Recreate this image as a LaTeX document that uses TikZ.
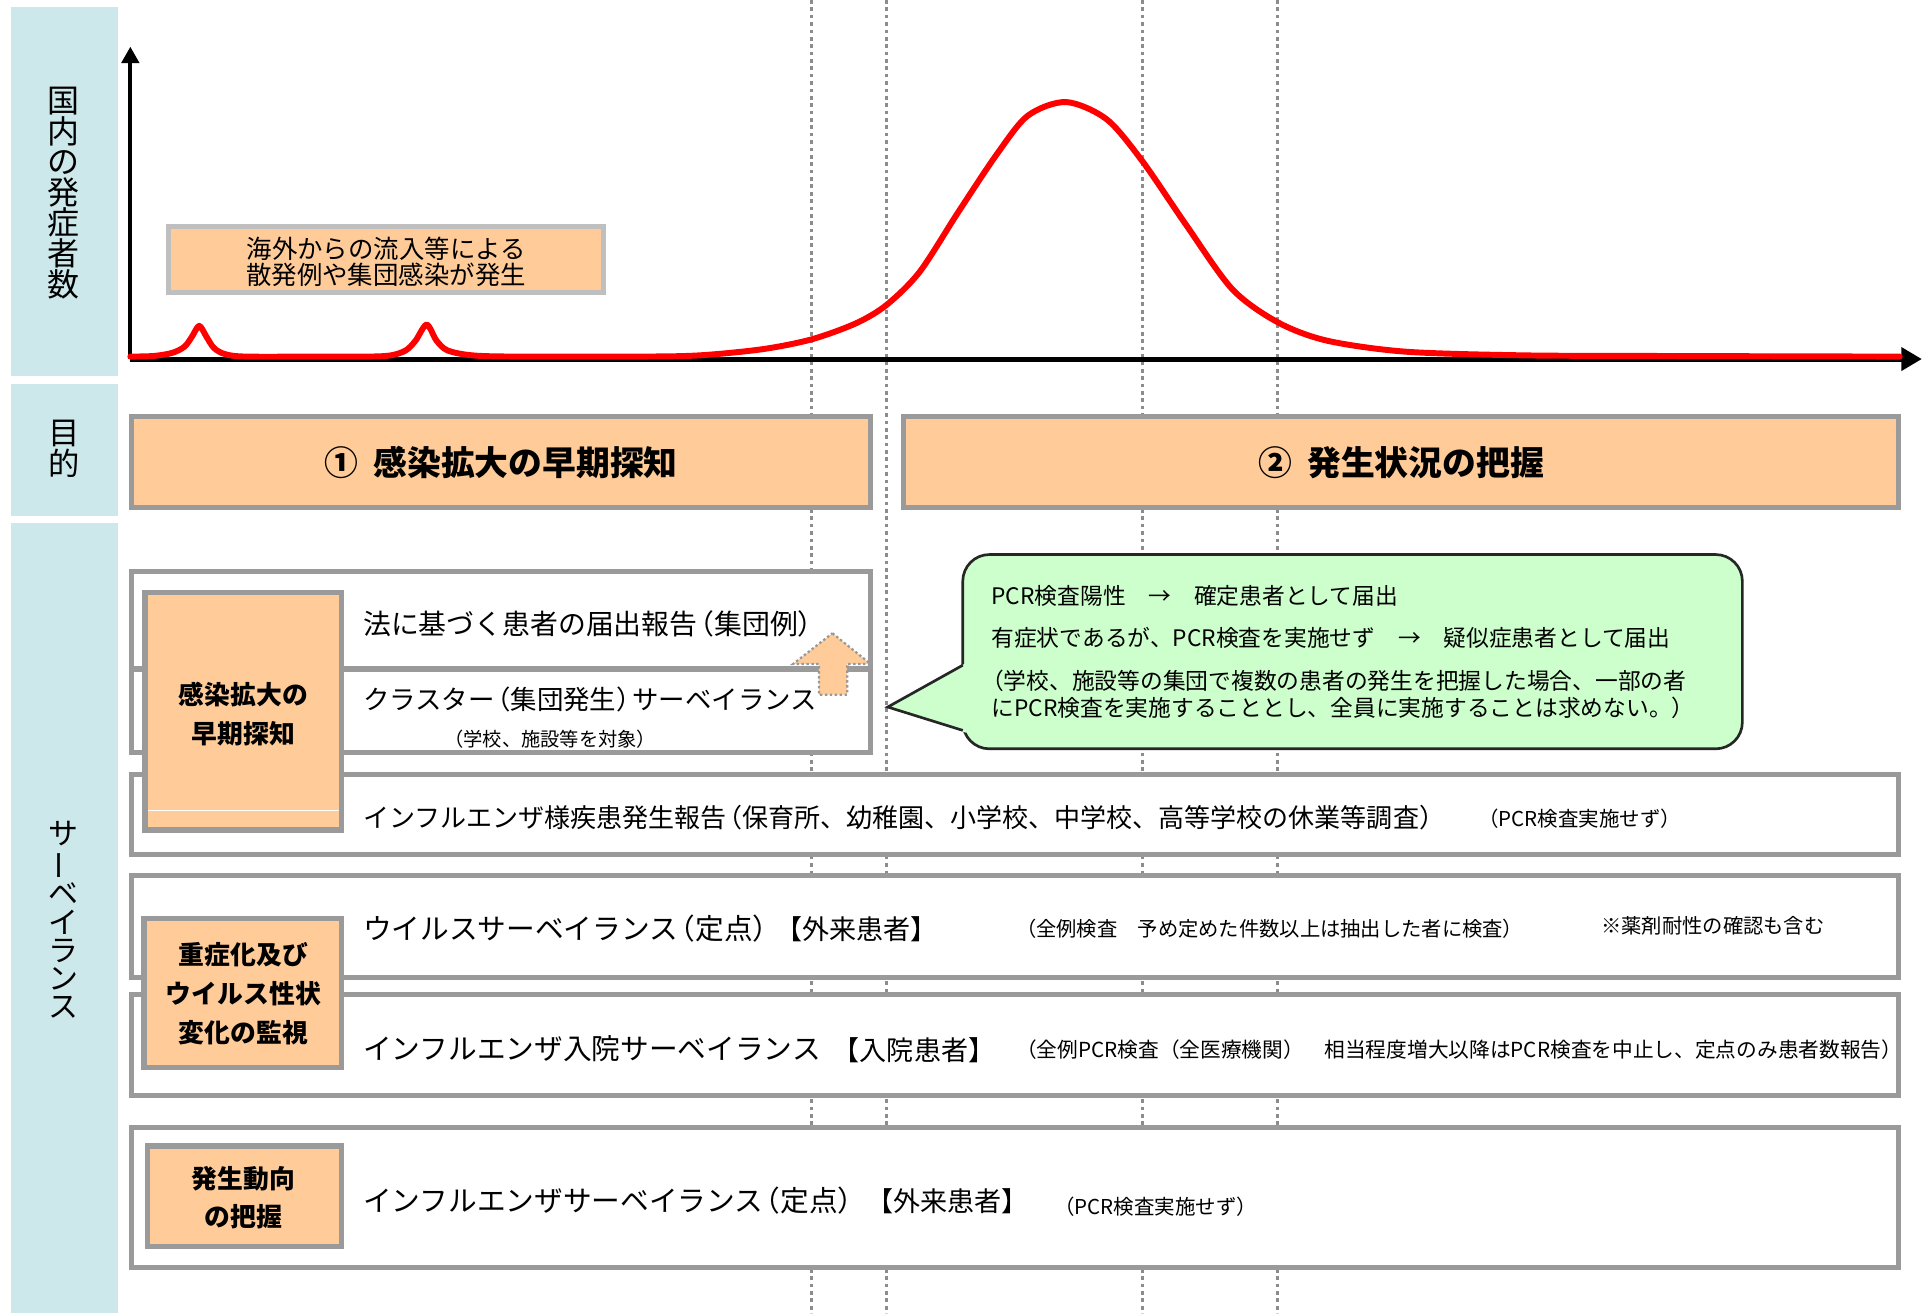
\documentclass[tikz,border=0pt]{standalone}
\usepackage{fontspec}
\usepackage{graphicx}
\setmainfont{Noto Sans CJK JP}
\usetikzlibrary{arrows.meta,fit}
\definecolor{peach}{HTML}{FFCC99}
\definecolor{bandblue}{HTML}{CDE8EB}
\definecolor{boxgray}{HTML}{9A9A9A}
\definecolor{lightgray}{HTML}{BFBFBF}
\definecolor{callgreen}{HTML}{CCFFCC}
\definecolor{dotgray}{HTML}{8C8C8C}
\definecolor{curvered}{HTML}{FF0000}
\newcommand{\fsz}[2]{\fontsize{#1}{#2}\selectfont}
\newcommand{\vbar}{\rotatebox[origin=c]{90}{ー}}
\newcommand{\lp}{\kern-0.4em（}
\newcommand{\rp}{）\kern-0.4em}
\begin{document}
\begin{tikzpicture}[x=0.6pt,y=-0.6pt,line join=miter,
  band/.style={fill=bandblue,draw=none,inner sep=0pt},
  wbox/.style={draw=boxgray,line width=2.6pt,fill=white,inner sep=0pt},
  obox/.style={draw=boxgray,line width=2.6pt,fill=peach,inner sep=0pt},
  lbox/.style={draw=lightgray,line width=2.4pt,fill=peach,inner sep=0pt},
  callbox/.style={draw=black!85,line width=1.3pt,fill=callgreen,rounded corners=13pt,inner sep=0pt},
  vlab/.style={align=center,inner sep=0pt},
  rowtext/.style={anchor=west,inner sep=0pt},
  guide/.style={draw=dotgray,line width=1.2pt,dash pattern=on 1.8pt off 1.8pt},
  curve/.style={draw=curvered,line width=2.9pt,line cap=round,line join=round},
  sidetext/.style={align=center,inner sep=0pt,font=\bfseries\fsz{12.6pt}{18.9pt}}
]
\fill[white] (0,0) rectangle (1568,1068);
\useasboundingbox (0,0) rectangle (1568,1068);

% left bands
\node[band,fit={(9,6)(96,306)}] (band1) {};
\node[band,fit={(9,312)(96,420)}] (band2) {};
\node[band,fit={(9,425)(96,1068)}] (band3) {};
\node[vlab,font=\fsz{15.6pt}{14.9pt}] (lab1) at (52,157) {国\\内\\の\\発\\症\\者\\数};
\node[vlab,font=\fsz{15.3pt}{15pt}] (lab2) at (52,365) {目\\的};
\node[vlab,font=\fsz{14.6pt}{13.8pt}] (lab3) at (52,748) {サ\\\vbar\\ベ\\イ\\ラ\\ン\\ス};

% dotted guides
\foreach \dx [count=\i] in {660,721,929,1039} {
  \coordinate (g\i t) at (\dx,0);
  \coordinate (g\i b) at (\dx,1068);
  \draw[guide] (g\i t) -- (g\i b);
}

% chart
\coordinate (o) at (106,292);
\coordinate (ytop) at (106,38);
\coordinate (xend) at (1563,292);
\draw[line width=1.8pt,-{Triangle[length=8pt,width=8.5pt]}] (o) -- (ytop);
\draw[line width=2.4pt,-{Triangle[length=10pt,width=11pt]}] (o) -- (xend);
\draw[curve] plot[smooth,tension=0.5] coordinates {
 (106,290) (125,289.5) (140,287) (150,282) (156,274) (162,265) (168,274) (174,283) (183,288) (200,290) (260,290)
 (300,290) (318,289) (330,285) (338,277) (347,264) (355,277) (364,285) (384,289) (420,290) (520,290)
 (569,289) (620,284) (660,276) (696,263) (721,248) (748,221) (779,173) (811,125) (836,94) (867,83)
 (900,97) (929,131) (964,182) (1002,235) (1039,262) (1079,277) (1143,286) (1239,289) (1347,289.5) (1545,290)};

\node[lbox,fit={(137,184)(491,238)}] (note) {};
\node[align=center,inner sep=0pt,font=\fsz{12.4pt}{12.6pt}] (notetext) at (314,213) {海外からの流入等による\\散発例や集団感染が発生};

% purpose boxes
\node[obox,fit={(107,339)(708,413)}] (p1) {};
\node[obox,fit={(735,339)(1544,413)}] (p2) {};
\node[inner sep=0pt,font=\bfseries\fsz{16.5pt}{16.5pt}] (p1t) at (p1.center) {①\hspace{0.45em}感染拡大の早期探知};
\node[inner sep=0pt,font=\bfseries\fsz{16.5pt}{16.5pt}] (p2t) at (p2.center) {②\hspace{0.45em}発生状況の把握};

% surveillance rows
\node[wbox,fit={(107,465)(708,544)}] (a1) {};
\node[wbox,fit={(107,544)(708,612)}] (a2) {};
\node[wbox,fit={(107,630)(1544,695)}] (rb) {};
\node[wbox,fit={(107,712)(1544,795)}] (c1) {};
\node[wbox,fit={(107,809)(1544,891)}] (c2) {};
\node[wbox,fit={(107,917)(1544,1031)}] (rd) {};

% side boxes
\node[obox,fit={(118,482)(278,675)}] (o1) {};
\draw[white,line width=0.7pt] (120,659) -- (276,659);
\node[obox,fit={(117,747)(278,868)}] (o2) {};
\node[obox,fit={(120,932)(278,1014)}] (o3) {};
\node[sidetext] (o1t) at (198,581) {感染拡大の\\早期探知};
\node[sidetext] (o2t) at (198,808) {重症化及び\\ウイルス性状\\変化の監視};
\node[sidetext] (o3t) at (198,974) {発生動向\\の把握};

% up arrow (dotted outline)
\filldraw[fill=peach,draw=gray!80,line width=1.1pt,dash pattern=on 1.2pt off 1.2pt]
  (677,515) -- (708,540) -- (689,540) -- (689,565) -- (666,565) -- (666,540) -- (645,540) -- cycle;

% row texts
\node[rowtext,font=\fsz{13.6pt}{13.6pt}] (a1t) at (295,507) {法に基づく患者の届出報告\lp 集団例）};
\node[rowtext,font=\fsz{12.9pt}{12.9pt}] (a2t) at (295,569) {クラスター\lp 集団発生\rp サーベイランス};
\node[rowtext,font=\fsz{9.4pt}{9.4pt}] (a2s) at (361,601) {（学校、施設等を対象）};
\node[rowtext,font=\fsz{12.7pt}{12.7pt}] (rbt) at (295,665) {インフルエンザ様疾患発生報告\lp 保育所、幼稚園、小学校、中学校、高等学校の休業等調査）};
\node[rowtext,font=\fsz{10pt}{10pt}] (rbs) at (1202,666) {（PCR検査実施せず）};
\node[rowtext,font=\fsz{14pt}{14pt}] (c1t) at (295,755) {ウイルスサーベイランス\lp 定点）};
\node[rowtext,font=\fsz{13.2pt}{13.2pt}] (c1b) at (630,756) {【外来患者】};
\node[rowtext,font=\fsz{9.9pt}{9.9pt}] (c1s) at (826,755) {（全例検査　予め定めた件数以上は抽出した者に検査）};
\node[rowtext,font=\fsz{9.9pt}{9.9pt}] (c1n) at (1302,753) {※薬剤耐性の確認も含む};
\node[rowtext,font=\fsz{14pt}{14pt}] (c2t) at (295,853) {インフルエンザ入院サーベイランス};
\node[rowtext,font=\fsz{13.2pt}{13.2pt}] (c2b) at (677,854) {【入院患者】};
\node[rowtext,font=\fsz{10.1pt}{10.1pt}] (c2s) at (826,854) {（全例PCR検査（全医療機関）　相当程度増大以降はPCR検査を中止し、定点のみ患者数報告）};
\node[rowtext,font=\fsz{14pt}{14pt}] (rdt) at (295,976) {インフルエンザサーベイランス\lp 定点）};
\node[rowtext,font=\fsz{13.2pt}{13.2pt}] (rdb) at (704,977) {【外来患者】};
\node[rowtext,font=\fsz{10pt}{10pt}] (rds) at (857,981) {（PCR検査実施せず）};

% callout
\node[callbox,fit={(783,451)(1417,609)}] (call) {};
\coordinate (ptip) at (722,575);
\coordinate (pj1) at (783,541);
\coordinate (pj2) at (783,594);
\fill[callgreen] (786,539) -- (ptip) -- (786,596) -- cycle;
\draw[black!85,line width=1.3pt] (pj1) -- (ptip) -- (pj2);
\node[rowtext,font=\fsz{11.1pt}{11.1pt}] (k1) at (806,485) {PCR検査陽性　→　確定患者として届出};
\node[rowtext,font=\fsz{11.1pt}{11.1pt}] (k2) at (806,519) {有症状であるが、PCR検査を実施せず　→　疑似症患者として届出};
\node[rowtext,font=\fsz{11.1pt}{11.1pt}] (k3) at (806,554) {\kern-0.45em（学校、施設等の集団で複数の患者の発生を把握した場合、一部の者};
\node[rowtext,font=\fsz{11.1pt}{11.1pt}] (k4) at (806,576) {にPCR検査を実施することとし、全員に実施することは求めない。）};
\end{tikzpicture}
\end{document}
